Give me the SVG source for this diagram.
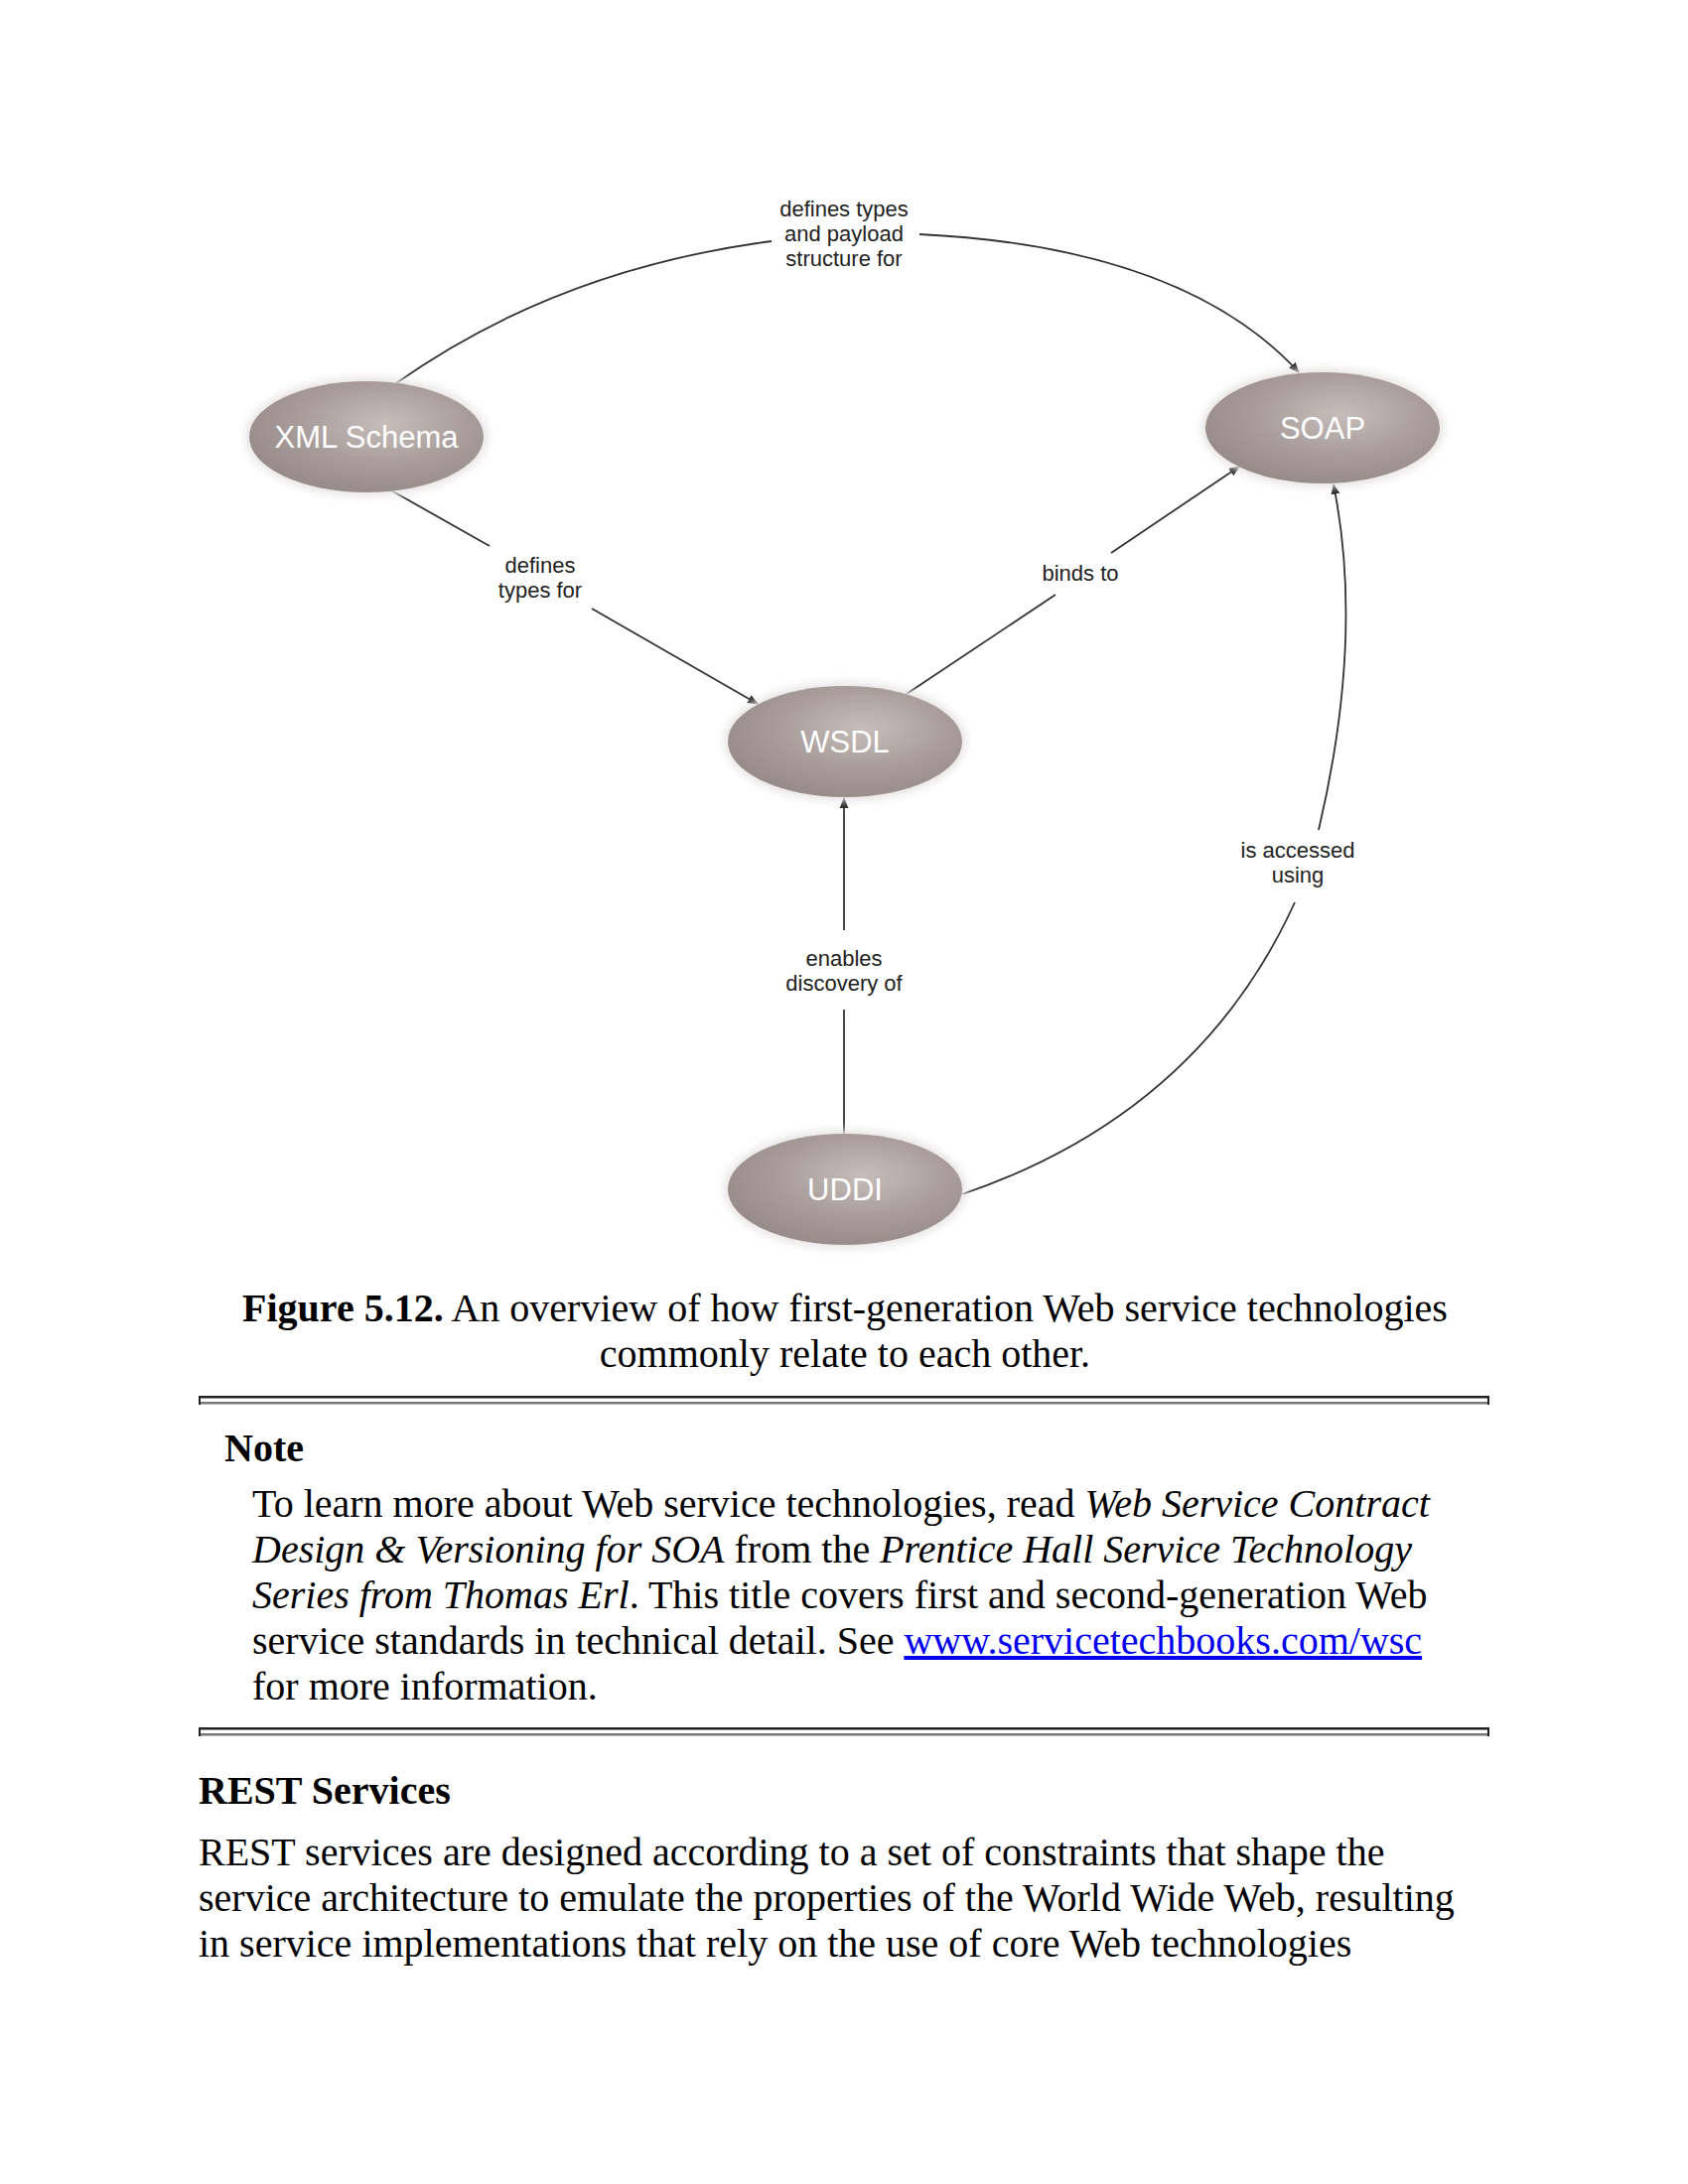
<svg xmlns="http://www.w3.org/2000/svg" width="1700" height="2200" viewBox="0 0 1700 2200">
<defs>
<radialGradient id="nodeFill" cx="58%" cy="38%" r="65%">
<stop offset="0" stop-color="#c6bdbb"/>
<stop offset="0.55" stop-color="#a89d9b"/>
<stop offset="1" stop-color="#978b89"/>
</radialGradient>
<filter id="glow" x="-20%" y="-20%" width="140%" height="140%">
<feGaussianBlur stdDeviation="4"/>
</filter>
<marker id="arr" viewBox="0 0 10 10" refX="9" refY="5" markerWidth="11" markerHeight="11" markerUnits="userSpaceOnUse" orient="auto">
<path d="M0,1 L10,5 L0,9 Z" fill="#222"/>
</marker>
</defs>
<style>
.node{fill:url(#nodeFill);}
.halo{fill:#e8e4e3;filter:url(#glow);}
.nlabel{font-family:"Liberation Sans",Arial,sans-serif;font-size:31px;fill:#ffffff;text-anchor:middle;}
.elabel{font-family:"Liberation Sans",Arial,sans-serif;font-size:22px;fill:#222;text-anchor:middle;}
.edge{fill:none;stroke:#333;stroke-width:1.8;}
.serif{font-family:"Liberation Serif","Times New Roman",serif;font-size:40px;fill:#000;}
.b{font-weight:bold;}
.i{font-style:italic;}
.link{fill:#0000ee;text-decoration:underline;}
</style>
<rect width="1700" height="2200" fill="#ffffff"/>

<g id="diagram" transform="translate(2,1)">
<g id="connectors">
<path class="edge" d="M397,385 Q560,270 775,242"/>
<path class="edge" d="M924,235 Q1190,248 1306,374" marker-end="url(#arr)"/>
<path class="edge" d="M392,493 L491,549"/>
<path class="edge" d="M594,612 L761,708" marker-end="url(#arr)"/>
<path class="edge" d="M911,698 L1061,598"/>
<path class="edge" d="M1117,556 L1246,469" marker-end="url(#arr)"/>
<path class="edge" d="M848,1142 L848,1016"/>
<path class="edge" d="M848,936 L848,803" marker-end="url(#arr)"/>
<path class="edge" d="M967,1202 Q1205,1121 1302,908"/>
<path class="edge" d="M1326,835 Q1372,640 1341,487" marker-end="url(#arr)"/>
</g>

<g id="edge-labels">
<text class="elabel" x="848" y="217">defines types</text>
<text class="elabel" x="848" y="242">and payload</text>
<text class="elabel" x="848" y="267">structure for</text>
<text class="elabel" x="542" y="576">defines</text>
<text class="elabel" x="542" y="601">types for</text>
<text class="elabel" x="1086" y="584">binds to</text>
<text class="elabel" x="1305" y="863">is accessed</text>
<text class="elabel" x="1305" y="888">using</text>
<text class="elabel" x="848" y="972">enables</text>
<text class="elabel" x="848" y="997">discovery of</text>
</g>

<g id="node-xmlschema">
<ellipse class="halo" cx="367" cy="439" rx="122" ry="60"/>
<ellipse class="node" cx="367" cy="439" rx="118" ry="56"/>
<text class="nlabel" x="367" y="450">XML Schema</text>
</g>
<g id="node-soap">
<ellipse class="halo" cx="1330" cy="430" rx="122" ry="60"/>
<ellipse class="node" cx="1330" cy="430" rx="118" ry="56"/>
<text class="nlabel" x="1330" y="441">SOAP</text>
</g>
<g id="node-wsdl">
<ellipse class="halo" cx="849" cy="746" rx="122" ry="60"/>
<ellipse class="node" cx="849" cy="746" rx="118" ry="56"/>
<text class="nlabel" x="849" y="757">WSDL</text>
</g>
<g id="node-uddi">
<ellipse class="halo" cx="849" cy="1197" rx="122" ry="60"/>
<ellipse class="node" cx="849" cy="1197" rx="118" ry="56"/>
<text class="nlabel" x="849" y="1208">UDDI</text>
</g>
</g>

<g id="caption">
<text class="serif" x="851" y="1331" text-anchor="middle"><tspan class="b">Figure 5.12.</tspan> An overview of how first-generation Web service technologies</text>
<text class="serif" x="851" y="1377" text-anchor="middle">commonly relate to each other.</text>
</g>

<g id="rule1">
<rect x="200" y="1406" width="1300" height="2.5" fill="#222"/>
<rect x="200" y="1412" width="1300" height="2.5" fill="#777"/>
<rect x="200" y="1406" width="2" height="9" fill="#222"/>
<rect x="1498" y="1406" width="2" height="9" fill="#222"/>
</g>

<g id="note">
<text class="serif b" x="226" y="1472">Note</text>
<text class="serif" x="254" y="1528">To learn more about Web service technologies, read <tspan class="i">Web Service Contract</tspan></text>
<text class="serif" x="254" y="1574"><tspan class="i">Design &amp; Versioning for SOA</tspan> from the <tspan class="i">Prentice Hall Service Technology</tspan></text>
<text class="serif" x="254" y="1620"><tspan class="i">Series from Thomas Erl</tspan>. This title covers first and second-generation Web</text>
<text class="serif" x="254" y="1666">service standards in technical detail. See <tspan class="link">www.servicetechbooks.com/wsc</tspan></text>
<text class="serif" x="254" y="1712">for more information.</text>
</g>

<g id="rule2">
<rect x="200" y="1740" width="1300" height="2.5" fill="#222"/>
<rect x="200" y="1746" width="1300" height="2.5" fill="#777"/>
<rect x="200" y="1740" width="2" height="9" fill="#222"/>
<rect x="1498" y="1740" width="2" height="9" fill="#222"/>
</g>

<g id="rest">
<text class="serif b" x="200" y="1817">REST Services</text>
<text class="serif" x="200" y="1879">REST services are designed according to a set of constraints that shape the</text>
<text class="serif" x="200" y="1925">service architecture to emulate the properties of the World Wide Web, resulting</text>
<text class="serif" x="200" y="1971">in service implementations that rely on the use of core Web technologies</text>
</g>
</svg>
